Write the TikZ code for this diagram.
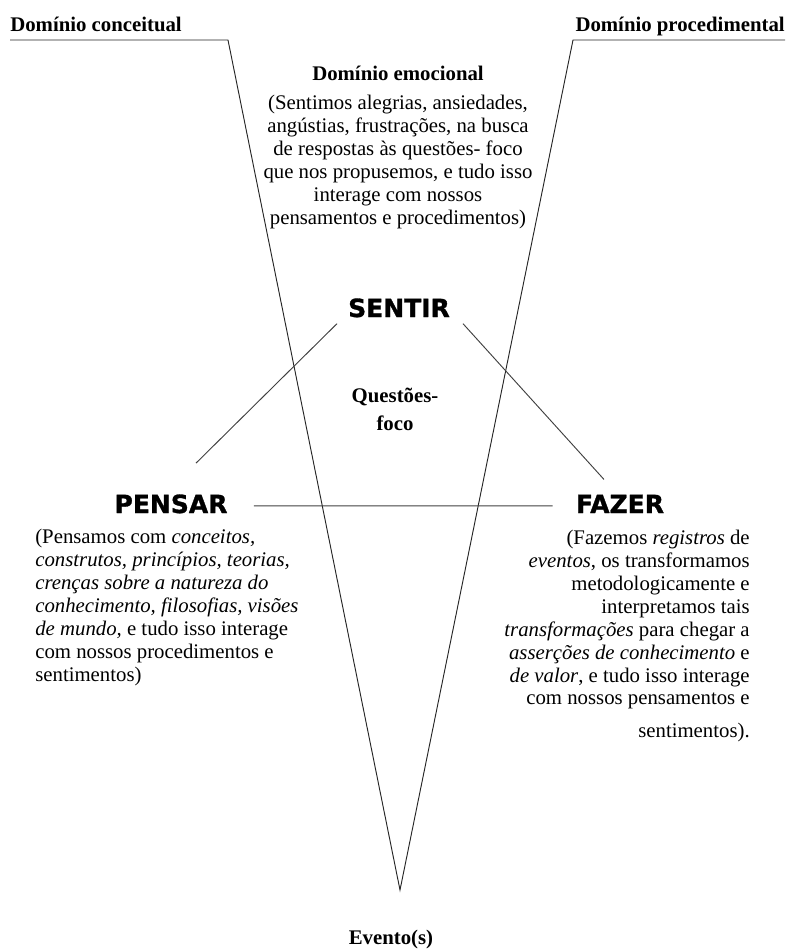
\documentclass[tikz,border=0pt]{standalone}
\usepackage{fontspec}
\setmainfont{Liberation Serif}
\newfontfamily\headfont{DejaVu Sans}[BoldFeatures={FakeBold=1.2}]
\usepackage{tikz}
\usetikzlibrary{positioning,calc}

\begin{document}
\begin{tikzpicture}[x=0.64pt, y=-0.64pt,
    txt/.style={inner sep=0pt, font=\fontsize{13.3}{14.7}\selectfont},
    ttl/.style={inner sep=0pt, font=\fontsize{13.3}{14.7}\selectfont\bfseries},
    % the three verbs of the V, heavy sans
    verb/.style={inner sep=0pt, font=\headfont\fontsize{16}{19}\selectfont\bfseries},
    link/.style={draw=black!75, line width=0.6pt},
    vee/.style={draw=black!85, line width=0.6pt}
  ]
    \useasboundingbox (0,0) rectangle (789,949);

    %--- Domains at the top (base = last line of a node)
    \node[ttl, anchor=base west] (dconc) at (10,31) {Domínio conceitual};
    \node[ttl, anchor=base east] (dproc) at (785,31) {Domínio procedimental};
    \node[ttl, anchor=base] (demo) at (398,80) {Domínio emocional};
    \node[txt, anchor=base, align=center] (sentimos) at (398,224) {%
      (Sentimos alegrias, ansiedades,\\
      angústias, frustrações, na busca\\
      de respostas às questões- foco\\
      que nos propusemos, e tudo isso\\
      interage com nossos\\
      pensamentos e procedimentos)};

    %--- Verbs and central question ---
    \node[verb, anchor=base] (sentir) at (399,317) {SENTIR};
    \node[ttl, anchor=base, align=center, font=\fontsize{13.3}{17.3}\selectfont\bfseries] (qfoco) at (395,430) {Questões-\\foco};
    \node[verb, anchor=base] (pensar) at (171,513) {PENSAR};
    \node[verb, anchor=base] (fazer) at (620,513) {FAZER};

    \node[txt, anchor=base west, align=left] (pensamos) at (35,681) {%
      (Pensamos com \textit{conceitos,}\\
      \textit{construtos, princípios, teorias,}\\
      \textit{crenças sobre a natureza do}\\
      \textit{conhecimento, filosofias, visões}\\
      \textit{de mundo,} e tudo isso interage\\
      com nossos procedimentos e\\
      sentimentos)};
    \node[txt, anchor=base east, align=right] (fazemos) at (750,737) {%
      (Fazemos \textit{registros} de\\
      \textit{eventos}, os transformamos\\
      metodologicamente e\\
      interpretamos tais\\
      \textit{transformações} para chegar a\\
      \textit{asserções de conhecimento} e\\
      \textit{de valor}, e tudo isso interage\\
      com nossos pensamentos e\\[5.8pt]
      sentimentos).};

    %--- The V and its point ---
    \coordinate (vertex) at (400,890);
    \node[ttl, anchor=base] (evento) at (391,944) {Evento(s)};
    \draw[vee] (10,40) -- (228,40) -- (vertex) -- (573,40) -- (785,40);

    %--- Links between the verbs
    \draw[link] ($(sentir.south)+(-62,6)$) -- ($(pensar.north)+(25,-31)$);
    \draw[link] ($(sentir.south)+(64,6)$) -- ($(fazer.north)+(-16,-15)$);
    \draw[link] ($(pensar.east)+(26,2)$) -- ($(fazer.west)+(-23,2)$);
\end{tikzpicture}
\end{document}
